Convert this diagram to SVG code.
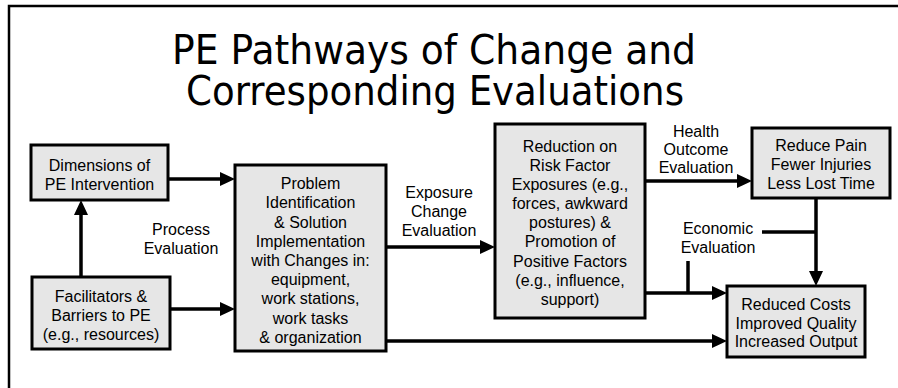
<svg xmlns="http://www.w3.org/2000/svg" width="898" height="388" viewBox="0 0 898 388">
  <style>
    .box { fill: #e6e6e6; stroke: #000; stroke-width: 3; }
    .txt { font-family: "Liberation Sans", Arial, sans-serif; font-size: 16px; fill: #000; text-anchor: middle; }
    .title { font-family: "DejaVu Sans", Verdana, sans-serif; font-size: 40px; fill: #000; text-anchor: middle; }
    .conn { fill: none; stroke: #000; stroke-width: 3.5; }
    .frame { fill: none; stroke: #000; stroke-width: 2.5; }
  </style>
  <defs>
    <marker id="arrow" markerUnits="userSpaceOnUse" markerWidth="15" markerHeight="14" refX="5" refY="7" orient="auto">
      <path d="M0,0 L15,7 L0,14 Z" fill="#000"/>
    </marker>
  </defs>

  <rect width="898" height="388" fill="#fff"/>
  <path class="frame" d="M9,388 V6 H898"/>

  <g id="title">
    <text class="title" x="434" y="64" textLength="524" lengthAdjust="spacingAndGlyphs">PE Pathways of Change and</text>
    <text class="title" x="435" y="105" textLength="498" lengthAdjust="spacingAndGlyphs">Corresponding Evaluations</text>
  </g>

  <g id="connectors">
    <path class="conn" d="M168,179 H225" marker-end="url(#arrow)"/>
    <path class="conn" d="M170,309 H225" marker-end="url(#arrow)"/>
    <path class="conn" d="M81,277 V210" marker-end="url(#arrow)"/>
    <path class="conn" d="M386,247 H485" marker-end="url(#arrow)"/>
    <path class="conn" d="M386,341 H717" marker-end="url(#arrow)"/>
    <path class="conn" d="M645,181 H742" marker-end="url(#arrow)"/>
    <path class="conn" d="M645,293 H717" marker-end="url(#arrow)"/>
    <path class="conn" d="M688,261 V293"/>
    <path class="conn" d="M816,198 V276" marker-end="url(#arrow)"/>
    <path class="conn" d="M762,232 H816"/>
  </g>

  <g id="dimensions">
    <rect class="box" x="31" y="145" width="137" height="55"/>
    <text class="txt" x="99.5" y="171">Dimensions of</text>
    <text class="txt" x="99.5" y="190">PE Intervention</text>
  </g>

  <g id="facilitators">
    <rect class="box" x="32" y="277" width="138" height="72"/>
    <text class="txt" x="101" y="302">Facilitators &amp;</text>
    <text class="txt" x="101" y="321">Barriers to PE</text>
    <text class="txt" x="101" y="340">(e.g., resources)</text>
  </g>

  <g id="problem">
    <rect class="box" x="235" y="165" width="151" height="186"/>
    <text class="txt" x="310.5" y="189">Problem</text>
    <text class="txt" x="310.5" y="208">Identification</text>
    <text class="txt" x="310.5" y="227.5">&amp; Solution</text>
    <text class="txt" x="310.5" y="247">Implementation</text>
    <text class="txt" x="310.5" y="266">with Changes in:</text>
    <text class="txt" x="310.5" y="285">equipment,</text>
    <text class="txt" x="310.5" y="304">work stations,</text>
    <text class="txt" x="310.5" y="323.5">work tasks</text>
    <text class="txt" x="310.5" y="342.5">&amp; organization</text>
  </g>

  <g id="reduction">
    <rect class="box" x="495" y="124" width="150" height="194"/>
    <text class="txt" x="570" y="151.5">Reduction on</text>
    <text class="txt" x="570" y="170.5">Risk Factor</text>
    <text class="txt" x="570" y="189.5">Exposures (e.g.,</text>
    <text class="txt" x="570" y="208.5">forces, awkward</text>
    <text class="txt" x="570" y="228">postures) &amp;</text>
    <text class="txt" x="570" y="247">Promotion of</text>
    <text class="txt" x="570" y="266.5">Positive Factors</text>
    <text class="txt" x="570" y="285.5">(e.g., influence,</text>
    <text class="txt" x="570" y="304.5">support)</text>
  </g>

  <g id="reduce-pain">
    <rect class="box" x="752" y="128" width="138" height="70"/>
    <text class="txt" x="821" y="151">Reduce Pain</text>
    <text class="txt" x="821" y="170">Fewer Injuries</text>
    <text class="txt" x="821" y="188.5">Less Lost Time</text>
  </g>

  <g id="reduced-costs">
    <rect class="box" x="727" y="286" width="138" height="71"/>
    <text class="txt" x="796" y="309.5">Reduced Costs</text>
    <text class="txt" x="796" y="328.5">Improved Quality</text>
    <text class="txt" x="796" y="347">Increased Output</text>
  </g>

  <g id="labels">
    <text class="txt" x="181" y="235">Process</text>
    <text class="txt" x="181" y="254">Evaluation</text>
    <text class="txt" x="439" y="198">Exposure</text>
    <text class="txt" x="439" y="217">Change</text>
    <text class="txt" x="439" y="236">Evaluation</text>
    <text class="txt" x="696" y="137">Health</text>
    <text class="txt" x="696" y="155">Outcome</text>
    <text class="txt" x="696" y="173">Evaluation</text>
    <text class="txt" x="718" y="234">Economic</text>
    <text class="txt" x="718" y="253">Evaluation</text>
  </g>
</svg>
